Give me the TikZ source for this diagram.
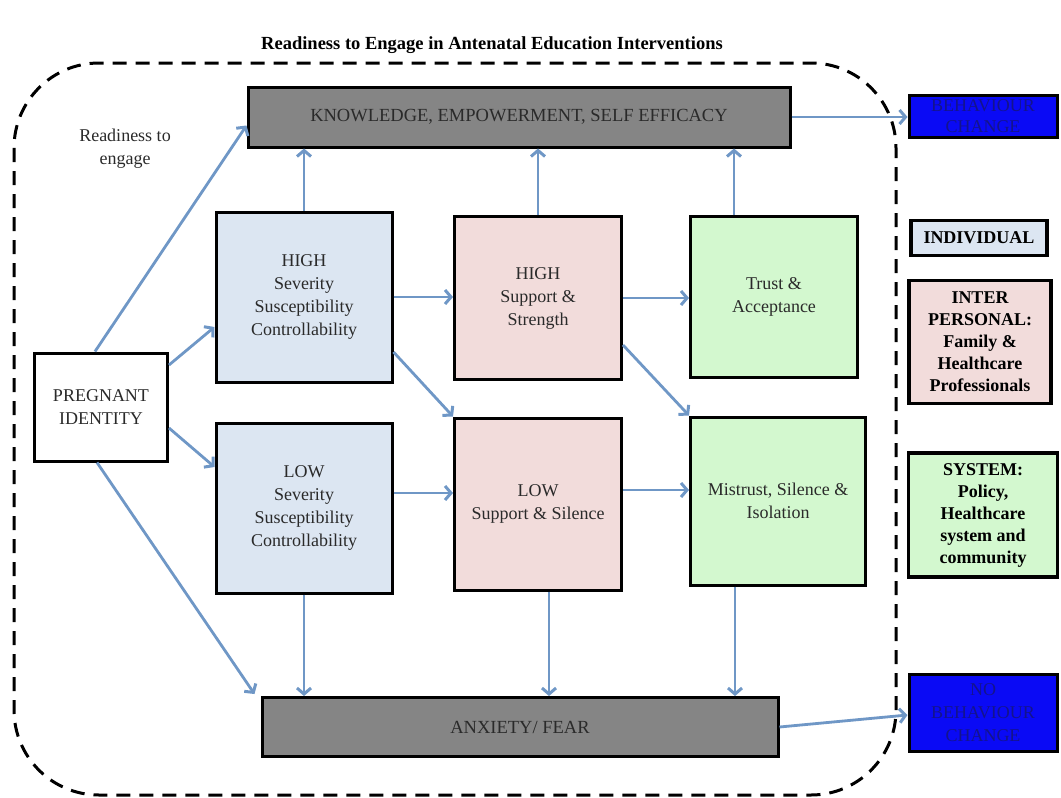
\documentclass[tikz,border=0pt]{standalone}
\usepackage{fontspec}
\setmainfont{Liberation Serif}
\usetikzlibrary{arrows.meta, calc}
\definecolor{darrow}{HTML}{6F97C6}
\definecolor{indblue}{HTML}{DCE6F2}
\definecolor{perpink}{HTML}{F2DCDB}
\definecolor{sysgreen}{HTML}{D3F8CF}
\definecolor{outgray}{HTML}{858585}
\definecolor{chgblue}{HTML}{0A0AF5}
\definecolor{chgtext}{HTML}{14148C}
\definecolor{txtgray}{HTML}{2A2A2A}

\begin{document}
\begin{tikzpicture}[
  x=1pt, y=-1pt,
  conn/.style={-{Straight Barb[length=6pt, width=14pt, line width=3pt]}, darrow, line width=2.8pt},
  box/.style={draw=black, line width=3pt, align=center, inner sep=2pt, text=txtgray,
    font=\fontsize{18}{23}\selectfont},
  outbox/.style={box, fill=outgray, font=\fontsize{18.5}{22}\selectfont},
  chgbox/.style={box, fill=chgblue, text=chgtext, font=\fontsize{18}{21}\selectfont,
    minimum width=148pt},
  keybox/.style={box, line width=3.2pt, text=black, font=\bfseries\fontsize{18}{22}\selectfont},
]
\useasboundingbox (0,0) rectangle (1061,798);

% ══════════════════════════════════════════════════════
% Title and frame
% ══════════════════════════════════════════════════════
\node[font=\bfseries\fontsize{18.5}{20}\selectfont] (title) at (492,45)
  {Readiness to Engage in Antenatal Education Interventions};
\draw[black, line width=3pt, dash pattern=on 14pt off 9pt, rounded corners=85pt]
  (14,63) rectangle (896,795);
\node[txtgray, align=center, font=\fontsize{18}{23}\selectfont] (ready) at (125,149)
  {Readiness to\\engage};

% ══════════════════════════════════════════════════════
% Outcome bars
% ══════════════════════════════════════════════════════
\node[outbox, minimum width=542pt, minimum height=60pt] (know) at (519,117)
  {KNOWLEDGE, EMPOWERMENT, SELF EFFICACY};
\node[outbox, minimum width=516pt, minimum height=59pt] (anx) at (520,727)
  {ANXIETY/ FEAR};

% ══════════════════════════════════════════════════════
% Level boxes
% ══════════════════════════════════════════════════════
\node[box, fill=white, minimum width=133pt, minimum height=108pt] (preg) at (101,407)
  {PREGNANT\\IDENTITY};

\node[box, fill=indblue, minimum width=176pt, minimum height=170pt] (hsev) at (304,297)
  {HIGH\\Severity\\Susceptibility\\Controllability};
\node[box, fill=indblue, minimum width=176pt, minimum height=170pt] (lsev) at (304,508)
  {LOW\\Severity\\Susceptibility\\Controllability};

\node[box, fill=perpink, minimum width=167pt, minimum height=163pt] (hsup) at (538,298)
  {HIGH\\Support \&\\Strength};
\node[box, fill=perpink, minimum width=167pt, minimum height=172pt] (lsup) at (538,504)
  {LOW\\Support \& Silence};

\node[box, fill=sysgreen, minimum width=167pt, minimum height=161pt] (trust) at (774,297)
  {Trust \&\\Acceptance};
\node[box, fill=sysgreen, minimum width=175pt, minimum height=168pt] (mistr) at (778,501)
  {Mistrust, Silence \&\\Isolation};

% ══════════════════════════════════════════════════════
% Results and key
% ══════════════════════════════════════════════════════
\node[chgbox, minimum height=42pt] (beh) at (983,116) {BEHAVIOUR\\CHANGE};
\node[chgbox, minimum height=77pt, font=\fontsize{18}{23}\selectfont] (nobeh) at (983,713)
  {NO\\BEHAVIOUR\\CHANGE};

\node[keybox, fill=indblue, minimum width=136pt, minimum height=35pt] (kind) at (979,238)
  {INDIVIDUAL};
\node[keybox, fill=perpink, minimum width=142pt, minimum height=123pt] (kper) at (980,342)
  {INTER\\PERSONAL:\\Family \&\\Healthcare\\Professionals};
\node[keybox, fill=sysgreen, minimum width=149pt, minimum height=124pt] (ksys) at (983,515)
  {SYSTEM:\\Policy,\\Healthcare\\system and\\community};

% ══════════════════════════════════════════════════════
% Connectors
% ══════════════════════════════════════════════════════
\draw[conn] ([xshift=-6pt]preg.north) -- ([yshift=23pt]know.south west);
\draw[conn] ([yshift=42pt]preg.east) -- ([yshift=-30pt]hsev.west);
\draw[conn] ([yshift=-21pt]preg.east) -- ([yshift=41pt]lsev.west);
\draw[conn] ([xshift=-4pt]preg.south) -- ([xshift=-6pt,yshift=2pt]anx.north west);

\draw[conn] (hsev.north) -- (hsev.north |- know.south);
\draw[conn] (hsup.north) -- (hsup.north |- know.south);
\draw[conn] ([xshift=-40pt]trust.north) -- ([xshift=-40pt]trust.north |- know.south);

\draw[conn] (hsev.east) -- (hsev.east -| hsup.west);
\draw[conn] ([yshift=-55pt]hsev.east) -- (lsup.north west);
\draw[conn] (hsup.east) -- (hsup.east -| trust.west);
\draw[conn] ([yshift=-47pt]hsup.east) -- (mistr.north west);

\draw[conn] ([yshift=15pt]lsev.east) -- ([yshift=15pt]lsev.east -| lsup.west);
\draw[conn] ([yshift=14pt]lsup.east) -- ([yshift=14pt]lsup.east -| mistr.west);

\draw[conn] (lsev.south) -- (lsev.south |- anx.north);
\draw[conn] ([xshift=11pt]lsup.south) -- ([xshift=11pt]lsup.south |- anx.north);
\draw[conn] ([xshift=-43pt]mistr.south) -- ([xshift=-43pt]mistr.south |- anx.north);

\draw[conn] (know.east) -- (know.east -| beh.west);
\draw[conn] (anx.east) -- ([yshift=-2pt]nobeh.west);
\end{tikzpicture}
\end{document}
